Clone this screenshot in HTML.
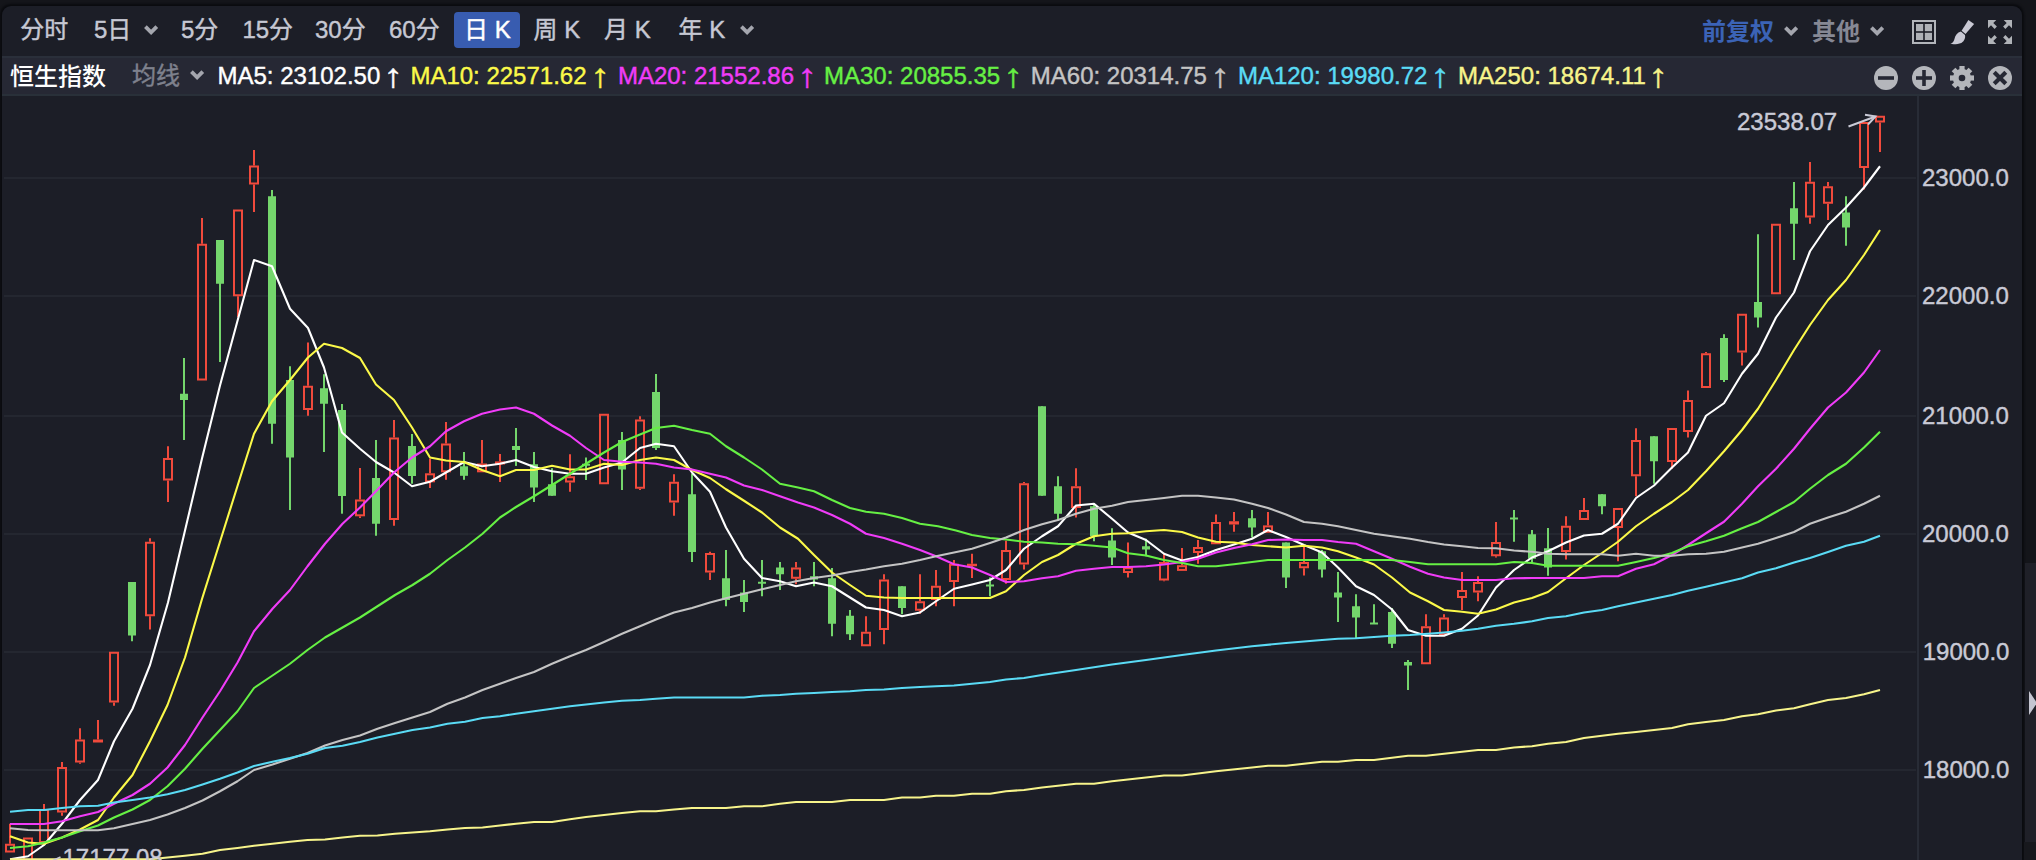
<!DOCTYPE html>
<html lang="zh-CN"><head><meta charset="utf-8"><title>恒生指数 日K</title>
<style>
html,body{margin:0;padding:0;background:#14151a;}
body{width:2036px;height:860px;overflow:hidden;position:relative;font-family:"Liberation Sans","Noto Sans CJK SC",sans-serif;}
.abs{position:absolute;}
#panel{position:absolute;left:2px;top:5.5px;width:2020px;height:900px;background:#1c1e27;border-radius:9px 9px 0 0;box-shadow:0 0 2px 1.5px #0a0b0f;}
#legend{position:absolute;left:2px;top:56px;width:2020px;height:40.3px;background:#262834;border-top:2px solid #2a2f3a;border-bottom:2px solid #293039;box-sizing:border-box;}
.t{position:absolute;white-space:nowrap;font-size:24px;line-height:30px;color:#c6c8d3;}
.tb{top:15px;}
.t,.ax{-webkit-text-stroke:0.42px currentColor;}
.ar{-webkit-text-stroke:0.4px currentColor;transform:scaleX(1.2);position:absolute;top:58px;font-size:33px;line-height:36px;white-space:nowrap;}
.lg{top:60.5px;}
.ax{position:absolute;left:1922px;font-size:24px;line-height:28px;color:#c9cad6;white-space:nowrap;}
#sel{position:absolute;left:454px;top:12px;width:66px;height:36px;background:#385cb0;border-radius:4px;}
</style></head><body>
<div id="panel"></div>
<div class="abs" style="left:2025px;top:563px;width:11px;height:279px;background:#1f2028;"></div>
<div class="abs" style="left:2024px;top:842px;width:12px;height:18px;background:#17181d;"></div>
<div class="abs" style="left:2029px;top:691px;width:0;height:0;border-left:8px solid #c4c5d1;border-top:12px solid transparent;border-bottom:12px solid transparent;"></div>
<div id="legend"></div>
<div id="sel"></div>
<span class="t tb" style="left:20.2px">分时</span>
<span class="t tb" style="left:93.9px">5日</span>
<span class="t tb" style="left:180.9px">5分</span>
<span class="t tb" style="left:242.4px">15分</span>
<span class="t tb" style="left:315px">30分</span>
<span class="t tb" style="left:389px">60分</span>
<span class="t tb" style="left:464px;color:#fff">日 K</span>
<span class="t tb" style="left:533.5px">周 K</span>
<span class="t tb" style="left:604px">月 K</span>
<span class="t tb" style="left:678.5px">年 K</span>
<svg class="abs" style="left:144.3px;top:24.7px" width="15" height="11" viewBox="0 0 15 11"><path d="M1.4 1.6 L7.1 7.3 L12.8 1.6" fill="none" stroke="#a4a6ae" stroke-width="3.8"/></svg>
<svg class="abs" style="left:740px;top:24.7px" width="15" height="11" viewBox="0 0 15 11"><path d="M1.4 1.6 L7.1 7.3 L12.8 1.6" fill="none" stroke="#a4a6ae" stroke-width="3.8"/></svg>
<span class="t tb" style="left:1702px;top:17px;color:#3b63b6;font-weight:700;-webkit-text-stroke:0">前复权</span>
<svg class="abs" style="left:1783.8px;top:26px" width="15" height="11" viewBox="0 0 15 11"><path d="M1.4 1.6 L7.1 7.3 L12.8 1.6" fill="none" stroke="#a4a6ae" stroke-width="3.8"/></svg>
<span class="t tb" style="left:1812px;top:17px;color:#868894;font-weight:700;-webkit-text-stroke:0">其他</span>
<svg class="abs" style="left:1870px;top:26px" width="15" height="11" viewBox="0 0 15 11"><path d="M1.4 1.6 L7.1 7.3 L12.8 1.6" fill="none" stroke="#a4a6ae" stroke-width="3.8"/></svg>
<span class="t lg" style="left:10px;top:61.5px;color:#fff;font-weight:500;-webkit-text-stroke:0">恒生指数</span>
<span class="t lg" style="left:132px;color:#7e818d">均线</span>
<svg class="abs" style="left:190px;top:70.3px" width="15" height="11" viewBox="0 0 15 11"><path d="M1.4 1.6 L7.1 7.3 L12.8 1.6" fill="none" stroke="#a4a6ae" stroke-width="3.8"/></svg>
<span class="t lg" style="left:217.5px;color:#ffffff">MA5: 23102.50</span><span class="ar" style="left:385.2px;color:#ffffff">↑</span>
<span class="t lg" style="left:410.4px;color:#fbf949">MA10: 22571.62</span><span class="ar" style="left:591.7px;color:#fbf949">↑</span>
<span class="t lg" style="left:617.9px;color:#f03cf8">MA20: 21552.86</span><span class="ar" style="left:798.8px;color:#f03cf8">↑</span>
<span class="t lg" style="left:824.0px;color:#66f044">MA30: 20855.35</span><span class="ar" style="left:1005.3px;color:#66f044">↑</span>
<span class="t lg" style="left:1030.8px;color:#c4c4c4">MA60: 20314.75</span><span class="ar" style="left:1212.0px;color:#c4c4c4">↑</span>
<span class="t lg" style="left:1237.9px;color:#5adbf5">MA120: 19980.72</span><span class="ar" style="left:1432.2px;color:#5adbf5">↑</span>
<span class="t lg" style="left:1458.1px;color:#f7f48b">MA250: 18674.11</span><span class="ar" style="left:1650.2px;color:#f7f48b">↑</span>
<svg class="abs" style="left:0;top:0" width="2036" height="860" viewBox="0 0 2036 860">
<rect x="4" y="177" width="1912" height="2" fill="#242730"/>
<rect x="4" y="295" width="1912" height="2" fill="#242730"/>
<rect x="4" y="415" width="1912" height="2" fill="#242730"/>
<rect x="4" y="533" width="1912" height="2" fill="#242730"/>
<rect x="4" y="651" width="1912" height="2" fill="#242730"/>
<rect x="4" y="769" width="1912" height="2" fill="#242730"/>
<rect x="1917" y="96" width="2" height="764" fill="#282c36"/>
<rect x="9" y="823.75" width="2" height="20" fill="#f04a3c"/>
<rect x="6" y="844.75" width="8" height="6.75" fill="none" stroke="#f04a3c" stroke-width="2"/>
<rect x="24" y="838.5" width="8" height="32.5" fill="none" stroke="#f04a3c" stroke-width="2"/>
<rect x="43" y="804" width="2" height="5" fill="#f04a3c"/>
<rect x="40" y="810" width="8" height="32" fill="none" stroke="#f04a3c" stroke-width="2"/>
<rect x="61" y="762" width="2" height="5" fill="#f04a3c"/>
<rect x="61" y="812.5" width="2" height="3.25" fill="#f04a3c"/>
<rect x="58" y="768" width="8" height="43.5" fill="none" stroke="#f04a3c" stroke-width="2"/>
<rect x="79" y="728.25" width="2" height="11.25" fill="#f04a3c"/>
<rect x="79" y="762.5" width="2" height="1.25" fill="#f04a3c"/>
<rect x="76" y="740.5" width="8" height="21" fill="none" stroke="#f04a3c" stroke-width="2"/>
<rect x="97" y="720" width="2" height="19.5" fill="#f04a3c"/>
<rect x="93" y="739.5" width="10" height="3" fill="#f04a3c"/>
<rect x="113" y="702.5" width="2" height="3.25" fill="#f04a3c"/>
<rect x="110" y="652.75" width="8" height="48.75" fill="none" stroke="#f04a3c" stroke-width="2"/>
<rect x="131" y="582" width="2" height="59.25" fill="#74d66c"/>
<rect x="128" y="582" width="8" height="53.5" fill="#74d66c"/>
<rect x="149" y="538.25" width="2" height="3.5" fill="#f04a3c"/>
<rect x="149" y="616.25" width="2" height="13.25" fill="#f04a3c"/>
<rect x="146" y="542.75" width="8" height="72.5" fill="none" stroke="#f04a3c" stroke-width="2"/>
<rect x="167" y="446.25" width="2" height="11.75" fill="#f04a3c"/>
<rect x="167" y="480.5" width="2" height="21.5" fill="#f04a3c"/>
<rect x="164" y="459" width="8" height="20.5" fill="none" stroke="#f04a3c" stroke-width="2"/>
<rect x="183" y="358" width="2" height="82" fill="#74d66c"/>
<rect x="180" y="393.75" width="8" height="6.25" fill="#74d66c"/>
<rect x="201" y="218" width="2" height="25.75" fill="#f04a3c"/>
<rect x="198" y="244.75" width="8" height="134.75" fill="none" stroke="#f04a3c" stroke-width="2"/>
<rect x="219" y="240" width="2" height="122" fill="#74d66c"/>
<rect x="216" y="240" width="8" height="43.75" fill="#74d66c"/>
<rect x="237" y="296.25" width="2" height="20.75" fill="#f04a3c"/>
<rect x="234" y="210.5" width="8" height="84.75" fill="none" stroke="#f04a3c" stroke-width="2"/>
<rect x="253" y="150" width="2" height="15.5" fill="#f04a3c"/>
<rect x="253" y="184.5" width="2" height="27.5" fill="#f04a3c"/>
<rect x="250" y="166.5" width="8" height="17" fill="none" stroke="#f04a3c" stroke-width="2"/>
<rect x="271" y="190" width="2" height="253.75" fill="#74d66c"/>
<rect x="268" y="196.25" width="8" height="227.5" fill="#74d66c"/>
<rect x="289" y="366.25" width="2" height="143.75" fill="#74d66c"/>
<rect x="286" y="380" width="8" height="77.5" fill="#74d66c"/>
<rect x="307" y="342.5" width="2" height="43.25" fill="#f04a3c"/>
<rect x="307" y="410" width="2" height="5.75" fill="#f04a3c"/>
<rect x="304" y="386.75" width="8" height="22.25" fill="none" stroke="#f04a3c" stroke-width="2"/>
<rect x="323" y="374.25" width="2" height="77.75" fill="#74d66c"/>
<rect x="320" y="388.25" width="8" height="15.5" fill="#74d66c"/>
<rect x="341" y="404" width="2" height="109.7" fill="#74d66c"/>
<rect x="338" y="410" width="8" height="86" fill="#74d66c"/>
<rect x="359" y="468" width="2" height="31.5" fill="#f04a3c"/>
<rect x="359" y="516.3" width="2" height="1.7" fill="#f04a3c"/>
<rect x="356" y="500.5" width="8" height="14.8" fill="none" stroke="#f04a3c" stroke-width="2"/>
<rect x="375" y="440" width="2" height="95.75" fill="#74d66c"/>
<rect x="372" y="478" width="8" height="45.75" fill="#74d66c"/>
<rect x="393" y="420" width="2" height="17.5" fill="#f04a3c"/>
<rect x="393" y="520" width="2" height="5.75" fill="#f04a3c"/>
<rect x="390" y="438.5" width="8" height="80.5" fill="none" stroke="#f04a3c" stroke-width="2"/>
<rect x="411" y="434" width="2" height="49.7" fill="#74d66c"/>
<rect x="408" y="446" width="8" height="30" fill="#74d66c"/>
<rect x="429" y="458.6" width="2" height="14.7" fill="#f04a3c"/>
<rect x="429" y="482.3" width="2" height="5.7" fill="#f04a3c"/>
<rect x="426" y="474.3" width="8" height="7" fill="none" stroke="#f04a3c" stroke-width="2"/>
<rect x="445" y="422" width="2" height="21.5" fill="#f04a3c"/>
<rect x="445" y="472.3" width="2" height="7.5" fill="#f04a3c"/>
<rect x="442" y="444.5" width="8" height="26.8" fill="none" stroke="#f04a3c" stroke-width="2"/>
<rect x="463" y="452" width="2" height="27.8" fill="#74d66c"/>
<rect x="460" y="466.3" width="8" height="9.5" fill="#74d66c"/>
<rect x="481" y="440" width="2" height="23.5" fill="#f04a3c"/>
<rect x="478" y="464.5" width="8" height="6.8" fill="none" stroke="#f04a3c" stroke-width="2"/>
<rect x="499" y="454" width="2" height="7.4" fill="#f04a3c"/>
<rect x="499" y="464.5" width="2" height="17.5" fill="#f04a3c"/>
<rect x="495" y="461.4" width="10" height="3.1" fill="#f04a3c"/>
<rect x="515" y="428" width="2" height="37.9" fill="#74d66c"/>
<rect x="512" y="446" width="8" height="4" fill="#74d66c"/>
<rect x="533" y="452" width="2" height="50" fill="#74d66c"/>
<rect x="530" y="464.25" width="8" height="23.25" fill="#74d66c"/>
<rect x="551" y="468.25" width="2" height="27.5" fill="#74d66c"/>
<rect x="548" y="484.25" width="8" height="11.5" fill="#74d66c"/>
<rect x="569" y="454.25" width="2" height="22" fill="#f04a3c"/>
<rect x="569" y="482.5" width="2" height="9.25" fill="#f04a3c"/>
<rect x="566" y="477.25" width="8" height="4.25" fill="none" stroke="#f04a3c" stroke-width="2"/>
<rect x="585" y="457.5" width="2" height="22.5" fill="#74d66c"/>
<rect x="582" y="463.75" width="8" height="2" fill="#74d66c"/>
<rect x="600" y="414.75" width="8" height="68.5" fill="none" stroke="#f04a3c" stroke-width="2"/>
<rect x="621" y="432" width="2" height="58" fill="#74d66c"/>
<rect x="618" y="440" width="8" height="29.5" fill="#74d66c"/>
<rect x="639" y="416.25" width="2" height="3.25" fill="#f04a3c"/>
<rect x="639" y="488.75" width="2" height="1.25" fill="#f04a3c"/>
<rect x="636" y="420.5" width="8" height="67.25" fill="none" stroke="#f04a3c" stroke-width="2"/>
<rect x="655" y="374" width="2" height="76" fill="#74d66c"/>
<rect x="652" y="392" width="8" height="56" fill="#74d66c"/>
<rect x="673" y="474.25" width="2" height="7.5" fill="#f04a3c"/>
<rect x="673" y="502.5" width="2" height="13.25" fill="#f04a3c"/>
<rect x="670" y="482.75" width="8" height="18.75" fill="none" stroke="#f04a3c" stroke-width="2"/>
<rect x="691" y="473.75" width="2" height="88.25" fill="#74d66c"/>
<rect x="688" y="494.25" width="8" height="57.75" fill="#74d66c"/>
<rect x="709" y="551.75" width="2" height="1.25" fill="#f04a3c"/>
<rect x="709" y="572.5" width="2" height="7.5" fill="#f04a3c"/>
<rect x="706" y="554" width="8" height="17.5" fill="none" stroke="#f04a3c" stroke-width="2"/>
<rect x="725" y="550" width="2" height="56.25" fill="#74d66c"/>
<rect x="722" y="578.25" width="8" height="21.75" fill="#74d66c"/>
<rect x="743" y="580" width="2" height="32" fill="#74d66c"/>
<rect x="740" y="592.5" width="8" height="9.5" fill="#74d66c"/>
<rect x="761" y="560" width="2" height="36.25" fill="#74d66c"/>
<rect x="758" y="581.75" width="8" height="2" fill="#74d66c"/>
<rect x="779" y="562" width="2" height="28" fill="#74d66c"/>
<rect x="776" y="567.5" width="8" height="6.75" fill="#74d66c"/>
<rect x="795" y="562" width="2" height="5.5" fill="#f04a3c"/>
<rect x="795" y="578.75" width="2" height="5.5" fill="#f04a3c"/>
<rect x="792" y="568.5" width="8" height="9.25" fill="none" stroke="#f04a3c" stroke-width="2"/>
<rect x="813" y="562" width="2" height="24.25" fill="#74d66c"/>
<rect x="810" y="576.25" width="8" height="3.25" fill="#74d66c"/>
<rect x="831" y="568" width="2" height="68.25" fill="#74d66c"/>
<rect x="828" y="578.25" width="8" height="45.5" fill="#74d66c"/>
<rect x="849" y="610" width="2" height="30" fill="#74d66c"/>
<rect x="846" y="615.75" width="8" height="18.5" fill="#74d66c"/>
<rect x="865" y="616.25" width="2" height="15.5" fill="#f04a3c"/>
<rect x="862" y="632.75" width="8" height="12.5" fill="none" stroke="#f04a3c" stroke-width="2"/>
<rect x="883" y="574.25" width="2" height="5.25" fill="#f04a3c"/>
<rect x="883" y="630" width="2" height="14.25" fill="#f04a3c"/>
<rect x="880" y="580.5" width="8" height="48.5" fill="none" stroke="#f04a3c" stroke-width="2"/>
<rect x="901" y="586.25" width="2" height="28" fill="#74d66c"/>
<rect x="898" y="586.25" width="8" height="21.75" fill="#74d66c"/>
<rect x="919" y="574.25" width="2" height="27" fill="#f04a3c"/>
<rect x="919" y="610.75" width="2" height="3" fill="#f04a3c"/>
<rect x="916" y="602.25" width="8" height="7.5" fill="none" stroke="#f04a3c" stroke-width="2"/>
<rect x="935" y="570" width="2" height="15.75" fill="#f04a3c"/>
<rect x="935" y="600" width="2" height="6.25" fill="#f04a3c"/>
<rect x="932" y="586.75" width="8" height="12.25" fill="none" stroke="#f04a3c" stroke-width="2"/>
<rect x="953" y="560" width="2" height="3.75" fill="#f04a3c"/>
<rect x="953" y="582" width="2" height="24.25" fill="#f04a3c"/>
<rect x="950" y="564.75" width="8" height="16.25" fill="none" stroke="#f04a3c" stroke-width="2"/>
<rect x="971" y="553.75" width="2" height="10" fill="#f04a3c"/>
<rect x="971" y="566.25" width="2" height="11.75" fill="#f04a3c"/>
<rect x="967" y="563.75" width="10" height="2.5" fill="#f04a3c"/>
<rect x="989" y="577.5" width="2" height="18.75" fill="#74d66c"/>
<rect x="986" y="584.5" width="8" height="2" fill="#74d66c"/>
<rect x="1005" y="540.75" width="2" height="9.25" fill="#f04a3c"/>
<rect x="1005" y="580" width="2" height="3.75" fill="#f04a3c"/>
<rect x="1002" y="551" width="8" height="28" fill="none" stroke="#f04a3c" stroke-width="2"/>
<rect x="1023" y="482" width="2" height="1.25" fill="#f04a3c"/>
<rect x="1023" y="564.5" width="2" height="5" fill="#f04a3c"/>
<rect x="1020" y="484.25" width="8" height="79.25" fill="none" stroke="#f04a3c" stroke-width="2"/>
<rect x="1041" y="406.25" width="2" height="89.5" fill="#74d66c"/>
<rect x="1038" y="406.25" width="8" height="89.5" fill="#74d66c"/>
<rect x="1057" y="476.25" width="2" height="44.5" fill="#74d66c"/>
<rect x="1054" y="486.25" width="8" height="27.5" fill="#74d66c"/>
<rect x="1075" y="468.25" width="2" height="18" fill="#f04a3c"/>
<rect x="1075" y="508" width="2" height="9.5" fill="#f04a3c"/>
<rect x="1072" y="487.25" width="8" height="19.75" fill="none" stroke="#f04a3c" stroke-width="2"/>
<rect x="1093" y="503" width="2" height="38.25" fill="#74d66c"/>
<rect x="1090" y="506.25" width="8" height="30" fill="#74d66c"/>
<rect x="1111" y="528.25" width="2" height="36.75" fill="#74d66c"/>
<rect x="1108" y="540.5" width="8" height="17" fill="#74d66c"/>
<rect x="1127" y="542.5" width="2" height="24.7" fill="#f04a3c"/>
<rect x="1127" y="573" width="2" height="4.5" fill="#f04a3c"/>
<rect x="1124" y="568.2" width="8" height="3.8" fill="none" stroke="#f04a3c" stroke-width="2"/>
<rect x="1145" y="538.75" width="2" height="17.5" fill="#74d66c"/>
<rect x="1142" y="546.25" width="8" height="3.25" fill="#74d66c"/>
<rect x="1163" y="553.75" width="2" height="8.25" fill="#f04a3c"/>
<rect x="1163" y="580.5" width="2" height="0.75" fill="#f04a3c"/>
<rect x="1160" y="563" width="8" height="16.5" fill="none" stroke="#f04a3c" stroke-width="2"/>
<rect x="1181" y="548" width="2" height="17.2" fill="#f04a3c"/>
<rect x="1178" y="566.2" width="8" height="3.7" fill="none" stroke="#f04a3c" stroke-width="2"/>
<rect x="1197" y="540" width="2" height="7" fill="#f04a3c"/>
<rect x="1197" y="553" width="2" height="10.75" fill="#f04a3c"/>
<rect x="1194" y="548" width="8" height="4" fill="none" stroke="#f04a3c" stroke-width="2"/>
<rect x="1215" y="514.5" width="2" height="7.5" fill="#f04a3c"/>
<rect x="1212" y="523" width="8" height="20.25" fill="none" stroke="#f04a3c" stroke-width="2"/>
<rect x="1233" y="512" width="2" height="9.25" fill="#f04a3c"/>
<rect x="1233" y="524.5" width="2" height="7.25" fill="#f04a3c"/>
<rect x="1229" y="521.25" width="10" height="3.25" fill="#f04a3c"/>
<rect x="1251" y="510" width="2" height="27.5" fill="#74d66c"/>
<rect x="1248" y="518.25" width="8" height="9.25" fill="#74d66c"/>
<rect x="1267" y="512" width="2" height="13.4" fill="#f04a3c"/>
<rect x="1264" y="526.4" width="8" height="5.4" fill="none" stroke="#f04a3c" stroke-width="2"/>
<rect x="1285" y="542.5" width="2" height="45.5" fill="#74d66c"/>
<rect x="1282" y="542.5" width="8" height="35" fill="#74d66c"/>
<rect x="1303" y="545" width="2" height="17" fill="#f04a3c"/>
<rect x="1303" y="568.25" width="2" height="7.25" fill="#f04a3c"/>
<rect x="1300" y="563" width="8" height="4.25" fill="none" stroke="#f04a3c" stroke-width="2"/>
<rect x="1321" y="550" width="2" height="27.5" fill="#74d66c"/>
<rect x="1318" y="551.25" width="8" height="18.25" fill="#74d66c"/>
<rect x="1337" y="572" width="2" height="50" fill="#74d66c"/>
<rect x="1334" y="592.5" width="8" height="5" fill="#74d66c"/>
<rect x="1355" y="594.25" width="2" height="43.75" fill="#74d66c"/>
<rect x="1352" y="606.25" width="8" height="11.25" fill="#74d66c"/>
<rect x="1373" y="604.25" width="2" height="19.5" fill="#74d66c"/>
<rect x="1370" y="622.5" width="8" height="2" fill="#74d66c"/>
<rect x="1391" y="608" width="2" height="40" fill="#74d66c"/>
<rect x="1388" y="612" width="8" height="31.75" fill="#74d66c"/>
<rect x="1407" y="660" width="2" height="30" fill="#74d66c"/>
<rect x="1404" y="662" width="8" height="3.5" fill="#74d66c"/>
<rect x="1425" y="614.25" width="2" height="12" fill="#f04a3c"/>
<rect x="1422" y="627.25" width="8" height="36" fill="none" stroke="#f04a3c" stroke-width="2"/>
<rect x="1443" y="614.25" width="2" height="3.25" fill="#f04a3c"/>
<rect x="1440" y="618.5" width="8" height="15.5" fill="none" stroke="#f04a3c" stroke-width="2"/>
<rect x="1461" y="572" width="2" height="18" fill="#f04a3c"/>
<rect x="1461" y="598" width="2" height="12" fill="#f04a3c"/>
<rect x="1458" y="591" width="8" height="6" fill="none" stroke="#f04a3c" stroke-width="2"/>
<rect x="1477" y="576.25" width="2" height="5.75" fill="#f04a3c"/>
<rect x="1477" y="592.5" width="2" height="8.75" fill="#f04a3c"/>
<rect x="1474" y="583" width="8" height="8.5" fill="none" stroke="#f04a3c" stroke-width="2"/>
<rect x="1495" y="522" width="2" height="20" fill="#f04a3c"/>
<rect x="1495" y="556.25" width="2" height="1.25" fill="#f04a3c"/>
<rect x="1492" y="543" width="8" height="12.25" fill="none" stroke="#f04a3c" stroke-width="2"/>
<rect x="1513" y="510" width="2" height="31.75" fill="#74d66c"/>
<rect x="1510" y="517.5" width="8" height="2" fill="#74d66c"/>
<rect x="1531" y="530" width="2" height="33.75" fill="#74d66c"/>
<rect x="1528" y="534.25" width="8" height="24.5" fill="#74d66c"/>
<rect x="1547" y="528" width="2" height="47.75" fill="#74d66c"/>
<rect x="1544" y="548.25" width="8" height="19.25" fill="#74d66c"/>
<rect x="1565" y="516.25" width="2" height="9.5" fill="#f04a3c"/>
<rect x="1565" y="552" width="2" height="7.5" fill="#f04a3c"/>
<rect x="1562" y="526.75" width="8" height="24.25" fill="none" stroke="#f04a3c" stroke-width="2"/>
<rect x="1583" y="498" width="2" height="12" fill="#f04a3c"/>
<rect x="1580" y="511" width="8" height="8" fill="none" stroke="#f04a3c" stroke-width="2"/>
<rect x="1601" y="494.25" width="2" height="20" fill="#74d66c"/>
<rect x="1598" y="494.25" width="8" height="12" fill="#74d66c"/>
<rect x="1617" y="528" width="2" height="33.25" fill="#f04a3c"/>
<rect x="1614" y="509" width="8" height="18" fill="none" stroke="#f04a3c" stroke-width="2"/>
<rect x="1635" y="428.25" width="2" height="11.75" fill="#f04a3c"/>
<rect x="1635" y="476.25" width="2" height="20" fill="#f04a3c"/>
<rect x="1632" y="441" width="8" height="34.25" fill="none" stroke="#f04a3c" stroke-width="2"/>
<rect x="1653" y="436.25" width="2" height="47.5" fill="#74d66c"/>
<rect x="1650" y="436.25" width="8" height="25" fill="#74d66c"/>
<rect x="1671" y="462" width="2" height="6.75" fill="#f04a3c"/>
<rect x="1668" y="429" width="8" height="32" fill="none" stroke="#f04a3c" stroke-width="2"/>
<rect x="1687" y="390.5" width="2" height="9.5" fill="#f04a3c"/>
<rect x="1687" y="432" width="2" height="5.5" fill="#f04a3c"/>
<rect x="1684" y="401" width="8" height="30" fill="none" stroke="#f04a3c" stroke-width="2"/>
<rect x="1705" y="352" width="2" height="1.25" fill="#f04a3c"/>
<rect x="1702" y="354.25" width="8" height="32.75" fill="none" stroke="#f04a3c" stroke-width="2"/>
<rect x="1723" y="334.25" width="2" height="47.75" fill="#74d66c"/>
<rect x="1720" y="338" width="8" height="42" fill="#74d66c"/>
<rect x="1741" y="352.5" width="2" height="13" fill="#f04a3c"/>
<rect x="1738" y="314.75" width="8" height="36.75" fill="none" stroke="#f04a3c" stroke-width="2"/>
<rect x="1757" y="234.25" width="2" height="93.25" fill="#74d66c"/>
<rect x="1754" y="302" width="8" height="15.5" fill="#74d66c"/>
<rect x="1772" y="224.75" width="8" height="68.5" fill="none" stroke="#f04a3c" stroke-width="2"/>
<rect x="1793" y="182" width="2" height="78" fill="#74d66c"/>
<rect x="1790" y="208.25" width="8" height="15.5" fill="#74d66c"/>
<rect x="1809" y="162" width="2" height="19.75" fill="#f04a3c"/>
<rect x="1809" y="217.5" width="2" height="6.25" fill="#f04a3c"/>
<rect x="1806" y="182.75" width="8" height="33.75" fill="none" stroke="#f04a3c" stroke-width="2"/>
<rect x="1827" y="182" width="2" height="4.25" fill="#f04a3c"/>
<rect x="1827" y="203.75" width="2" height="16.25" fill="#f04a3c"/>
<rect x="1824" y="187.25" width="8" height="15.5" fill="none" stroke="#f04a3c" stroke-width="2"/>
<rect x="1845" y="196.25" width="2" height="49.5" fill="#74d66c"/>
<rect x="1842" y="212.5" width="8" height="15" fill="#74d66c"/>
<rect x="1863" y="168" width="2" height="21.5" fill="#f04a3c"/>
<rect x="1860" y="123" width="8" height="44" fill="none" stroke="#f04a3c" stroke-width="2"/>
<rect x="1879" y="122.5" width="2" height="29.5" fill="#f04a3c"/>
<rect x="1876" y="116.75" width="8" height="4.75" fill="none" stroke="#f04a3c" stroke-width="2"/>
<polyline points="10,859.25 28,856.25 44,845 62,823.75 80,800 98,780 114,741.25 132.5,708.75 150,665 168,602.5 184,534.75 202,458.5 220,385.5 238,319 254,260 272,266.25 290,308.75 308,328 324,367.5 342,432.5 360,448.75 376,462 394,472.5 412,486.25 430,481.75 446,472.5 464,462 482,466.25 500,463.75 516,460 534,467 552,471.25 570,473.75 586,473.75 604,467.5 622,462.5 640,448 656,443.75 674,446.25 692,472.5 710,491.75 726,527.5 744,558.75 762,578 780,581.25 796,586.25 814,582.5 832,586.25 850,597.5 866,607.5 884,610 902,616.25 920,612.5 936,601.25 954,588.75 972,584.5 990,580 1006,570 1024,548.75 1042,536.25 1058,526.25 1076,505.5 1094,503.75 1112,518.75 1128,532.5 1146,540 1164,553.75 1182,560.5 1198,557 1216,550 1234,544.5 1252,538.75 1268,530 1286,537 1304,545 1322,552.5 1338,567.5 1356,586.25 1374,595 1392,609.5 1408,630 1426,635.75 1444,635.75 1462,628.75 1478,615.5 1496,587.5 1514,570 1532,557.5 1548,551.25 1566,542.5 1584,535.5 1602,533.75 1618,523.75 1636,498 1654,485.5 1672,467.5 1688,452.5 1706,415.75 1724,403.25 1742,373.75 1758,353.75 1776,317.5 1794,292.5 1810,251.25 1828,225 1846,207.5 1864,187.5 1880,166.25" fill="none" stroke="#ffffff" stroke-width="2.1" stroke-linejoin="round"/>
<polyline points="10,836.25 28,842.5 44,843.75 62,837.5 80,829.5 98,820 114,797.5 132.5,775 150,741.25 167.5,705 185,657.5 202,599 220,541.75 237.5,486 254,433.75 272,401.25 290,380 308,357.5 324,343.75 342,348 360,358 376,384.5 394,400 412,427.5 430,457.5 446,460.5 464,462 482,470 500,476.25 516,470 534,470 552,465.75 570,469.5 586,469.5 604,463.75 622,465 640,460 656,457.5 674,460 692,470 710,478 726,489.25 744,500.75 762,512.5 780,527.5 798,538.75 814,555 832,572.5 850,585 866,595.75 884,597.5 902,598 920,598 936,598 954,598 972,598 990,598 1006,591.25 1024,575 1042,562 1058,555 1076,543.75 1094,536.25 1112,533.75 1128,533.25 1146,531.25 1164,530 1182,532 1198,537.5 1216,541.75 1234,542.5 1252,545 1268,546.25 1286,547.5 1304,545.75 1322,547.5 1338,551.25 1356,557.5 1374,564.5 1392,577.5 1410,592.5 1428,601.25 1444,610 1462,611.75 1478,613.75 1496,609.5 1514,602.5 1532,598 1548,592 1566,578.25 1584,565 1602,553 1618,541.75 1636,526.25 1654,513.75 1672,502 1688,490 1706,471.25 1724,451.25 1742,430 1758,408.75 1776,380 1794,350 1810,325 1828,300 1846,280 1864,255 1880,230" fill="none" stroke="#fbf949" stroke-width="2.1" stroke-linejoin="round"/>
<polyline points="10,824 28,824 44,824 62,821.25 80,816.25 98,812 114,803.75 132.5,795 150,783.75 167.5,767.5 185,745 202.5,717.5 220,691.25 237.5,662.5 254,631.25 272.5,608.75 290,590 307.5,566.25 325,543.75 342.5,523.75 360,507.5 376,491.25 394,472.5 412,457.5 430,446.25 446,431.25 464,421.25 482,413.75 500,409.5 516,407.5 534,413.75 552,425.5 570,435.75 586,448 604,460 622,461.75 640,462.5 656,463.75 674,467.5 692,469.5 710,473.75 726,477.5 744,485.5 762,490 780,496.25 798,502.5 814,507.5 832,515 850,523.75 866,533.75 884,538 902,543.75 920,550 936,556.25 954,564.25 972,567.5 990,575 1006,582 1024,581.25 1042,578.25 1058,576.25 1076,570.75 1094,568.75 1112,567 1128,567 1146,566.25 1164,564.5 1182,562 1198,558.75 1216,552.5 1234,548 1252,544.25 1268,540 1286,539.5 1304,540 1322,540 1338,542 1356,543.75 1374,551.25 1392,558.75 1410,566.75 1428,573.75 1444,577.5 1462,580 1478,580 1496,580 1514,578.25 1532,578 1548,578 1566,578 1584,578 1602,576.25 1618,576.25 1636,568.75 1654,564.25 1672,555 1688,545 1706,533.25 1724,521.75 1742,503.75 1758,486.25 1776,468.75 1794,448.75 1810,428.75 1828,407.5 1846,392.5 1864,372.5 1880,350" fill="none" stroke="#f03cf8" stroke-width="2.1" stroke-linejoin="round"/>
<polyline points="10,848 28,846.25 44,842.5 62,837.5 80,831.25 98,825.5 114,817.5 132.5,809.5 150,800 167.5,786.25 185,768.75 202.5,748.75 220,730 237.5,711.25 254,688 272.5,675.5 290,663.75 307.5,650 325,637.5 342.5,627.5 360,617.5 377.5,606.25 395,595 412.5,585 430,573.75 447.5,560 465,547.5 482.5,533.75 500,517.5 516,507 534,496.25 552,485 570,473.75 586,463.75 604,452.5 622,442 640,434.5 656,428 674,425.75 692,430 710,433.75 726,446.25 744,457.5 762,469.5 780,483.75 798,487.5 814,491.25 832,500 850,508 866,511.75 884,513.75 902,518 920,523.75 938,526.25 956,530.5 972,535 990,538 1006,539.5 1024,541.75 1042,542.5 1058,543.75 1076,544.25 1094,545.75 1112,547.5 1128,553.25 1146,555.5 1164,560 1182,563 1198,566.25 1216,566.25 1234,564.25 1252,562 1268,560 1286,560 1304,560 1322,560 1338,560 1356,560 1374,560 1392,560 1410,562 1428,564.25 1444,564.25 1462,564.25 1478,564.25 1496,564.25 1514,562 1532,563 1548,565.75 1566,565.75 1584,565.75 1602,565.75 1618,565.75 1636,562 1654,558 1672,553 1688,546.25 1706,541.25 1724,535.75 1742,528.25 1758,522 1776,512 1794,502 1810,488.75 1828,475 1846,463.75 1864,447.5 1880,431.75" fill="none" stroke="#66f044" stroke-width="2.1" stroke-linejoin="round"/>
<polyline points="10,828.25 28,830 44,830.25 62,830.25 80,830.25 98,830.25 114,828.25 132.5,824 150,820 167.5,814.5 185,808 202.5,800.5 220,791.25 237.5,781.25 254,770 272.5,764.5 290,758.75 307.5,753 325,745.5 342.5,740 360,735.5 377.5,728.75 395,723 412.5,717.5 430,712 447.5,703.75 465,697.5 482.5,690 500,683.75 516,678 534,672 552,663.75 570,656.25 586,650 604,642 622,633.75 640,626.25 656,619.5 674,612.5 692,608 710,602.5 726,598.25 744,593.75 762,589.25 780,585 796,581.25 814,578 832,575.5 850,572 866,569.5 884,566.25 902,563.75 920,560 936,556.25 954,552.5 972,548.75 990,543 1006,537.5 1024,530 1042,524.25 1058,520 1076,513.75 1094,508.75 1112,505.75 1128,502 1146,500 1164,498 1182,495.75 1198,495.75 1216,497.5 1234,499.5 1252,503.75 1268,508 1286,514.5 1304,522 1322,523.75 1338,526.25 1356,530 1374,533.75 1392,536.25 1410,538.75 1428,542 1444,544.5 1462,546.25 1478,548 1496,548.25 1514,550.5 1532,551.75 1548,553.75 1566,554.25 1584,554.25 1602,554.25 1618,555.75 1636,553.75 1654,555.75 1672,555.75 1688,554.25 1706,553.75 1724,551.75 1742,547.5 1758,543.75 1776,538 1794,532 1810,523.75 1828,517.5 1846,511.75 1864,503.75 1880,495.75" fill="none" stroke="#c4c4c4" stroke-width="2.1" stroke-linejoin="round"/>
<polyline points="10,811.75 28,810 44,810 62,808 80,806.25 98,805.75 114,802.5 132.5,800 150,797.5 167.5,794.25 185,790 202.5,784.5 220,778.75 237.5,772.5 254,766 272.5,761.75 290,758 307.5,753.75 325,748 342.5,745.75 360,742 377.5,737.5 395,733.75 412.5,730 430,727.5 447.5,723.75 465,721.75 482.5,718 500,716.25 516,713.75 534,711.25 552,708.75 570,706.25 586,704.5 604,702.5 622,700.75 640,700 656,698.75 674,697.5 692,697.5 710,697.5 726,697.5 744,697.5 762,695.75 780,695 796,693.75 814,693 832,692 850,691.25 866,690 884,689.5 902,688 920,687 936,686.25 954,685.5 972,683.75 990,682 1006,679.5 1024,678 1042,675 1076,670 1112,664.5 1146,660 1182,655 1216,650.5 1252,646.25 1286,643 1322,640 1338,638.75 1356,638.25 1374,637 1392,635.75 1410,635 1428,633.75 1444,632.5 1462,630.75 1478,628.75 1496,625.75 1514,623.75 1532,621.25 1548,618 1566,616.25 1584,612.5 1602,610 1618,606.25 1636,602.5 1654,598.75 1672,595 1688,590.75 1706,586.75 1724,582.5 1742,578.25 1758,572.5 1776,568.25 1794,562.5 1810,558 1828,552 1846,545.75 1864,541.75 1880,535.75" fill="none" stroke="#5adbf5" stroke-width="2.1" stroke-linejoin="round"/>
<polyline points="10,859.38 150,859.25 167.5,857.5 185,855.75 202.5,853.75 220,850 237.5,848 254,845.75 272.5,843.75 290,841.75 307.5,840 325,839.5 342.5,837.5 360,835.75 377.5,835.5 395,833.75 412.5,832.5 430,831.25 447.5,829.5 465,828 482.5,827.5 500,825.5 516,823.75 534,822 552,822 570,819.25 586,817 604,815 622,813 640,811.25 656,811.25 674,809.5 692,808 710,808 726,808 744,806.25 762,806.25 780,803.75 796,802 814,802 832,802 850,800 866,800 884,800 902,797.5 920,797.5 936,795.75 954,795.75 972,793.75 990,793.75 1006,791.25 1024,790 1042,787.5 1076,783.75 1094,783.75 1112,781.25 1146,777.5 1164,775.5 1182,775.5 1216,771.25 1252,767.5 1268,765.75 1286,765.75 1322,761.75 1338,761.75 1356,760 1374,760 1408,755.75 1426,755.75 1478,750 1496,750 1514,747.5 1532,746.25 1548,743.75 1566,742 1584,738 1602,735.75 1618,733.75 1636,732 1654,730 1672,728 1688,724.25 1706,722 1724,720 1742,716.25 1758,714.25 1776,710.5 1794,708.25 1810,704.25 1828,700 1846,698 1864,694.25 1880,690" fill="none" stroke="#f7f48b" stroke-width="2.1" stroke-linejoin="round"/>
<g stroke="#c9cad6" stroke-width="2" fill="none"><path d="M1848.5 126.5 L1875.5 116.5"/><path d="M1865 114.8 L1875.5 116.5 L1868 124.5"/></g>
<g stroke="#c9cad6" stroke-width="1.6" fill="none"><path d="M60.5 857 L53 860.5"/></g>
</svg>
<span class="ax" style="top:164px">23000.0</span>
<span class="ax" style="top:282px">22000.0</span>
<span class="ax" style="top:402px">21000.0</span>
<span class="ax" style="top:520px">20000.0</span>
<span class="ax" style="top:638px;left:1922.7px">19000.0</span>
<span class="ax" style="top:756px;left:1922.7px">18000.0</span>
<span class="ax" style="left:1737px;top:108px">23538.07</span>
<span class="ax" style="left:62.5px;top:843.5px">17177.08</span>

<svg class="abs" style="left:1912px;top:20px" width="24" height="24" viewBox="0 0 24 24"><rect x="1" y="1" width="22" height="22" fill="none" stroke="#b2b5ba" stroke-width="2"/><g fill="#aeb1b6"><rect x="4" y="4" width="7.2" height="7.2"/><rect x="12.8" y="4" width="7.2" height="7.2"/><rect x="4" y="12.8" width="7.2" height="7.2"/><rect x="12.8" y="12.8" width="7.2" height="7.2"/></g></svg>
<svg class="abs" style="left:1949px;top:19px" width="27" height="27" viewBox="1949 19 27 27"><g fill="#c9c9d4"><path d="M1968.4 20 L1974.1 24.1 L1965.5 33.9 L1961.6 30.7 Z"/><path d="M1960.9 31.6 L1965.0 34.9 C1965.6 37.5 1964.8 40.5 1961.3 43 C1958 44.4 1953.5 44.3 1950.4 44.1 C1953 42.8 1954 41 1954.6 38.5 C1955.2 35.5 1957.3 32.6 1960.9 31.6 Z"/></g></svg>
<svg class="abs" style="left:1988px;top:20px" width="24" height="24" viewBox="0 0 24 24"><g fill="#b0b3b8"><path d="M0 0 L8.3 0 L5.28 3.02 L8.88 6.62 L6.62 8.88 L3.02 5.28 L0 8.3 Z"/><path d="M24 0 L15.7 0 L18.72 3.02 L15.12 6.62 L17.38 8.88 L20.98 5.28 L24 8.3 Z"/><path d="M0 24 L8.3 24 L5.28 20.98 L8.88 17.38 L6.62 15.12 L3.02 18.72 L0 15.7 Z"/><path d="M24 24 L15.7 24 L18.72 20.98 L15.12 17.38 L17.38 15.12 L20.98 18.72 L24 15.7 Z"/></g></svg>
<svg class="abs" style="left:1874px;top:66px" width="24" height="24" viewBox="0 0 24 24"><circle cx="12" cy="12" r="12" fill="#b4b6bb"/><rect x="4" y="10.2" width="16" height="3.6" fill="#262834"/></svg>
<svg class="abs" style="left:1912px;top:66px" width="24" height="24" viewBox="0 0 24 24"><circle cx="12" cy="12" r="12" fill="#b4b6bb"/><rect x="4" y="10.2" width="16" height="3.6" fill="#262834"/><rect x="10.2" y="4" width="3.6" height="16" fill="#262834"/></svg>
<svg class="abs" style="left:1950px;top:66px" width="24" height="24" viewBox="-12 -12 24 24"><g fill="#b4b6bb"><circle r="9.2"/><g id="th"><rect x="-2.6" y="-12" width="5.2" height="24"/><rect x="-12" y="-2.6" width="24" height="5.2"/></g><g transform="rotate(45)"><rect x="-2.6" y="-12" width="5.2" height="24"/><rect x="-12" y="-2.6" width="24" height="5.2"/></g></g><circle r="3.3" fill="#262834"/></svg>
<svg class="abs" style="left:1988px;top:66px" width="24" height="24" viewBox="-12 -12 24 24"><circle r="12" fill="#b4b6bb"/><g transform="rotate(45)" fill="#262834"><rect x="-8.2" y="-2.05" width="16.4" height="4.1"/><rect x="-2.05" y="-8.2" width="4.1" height="16.4"/></g></svg>

</body></html>
